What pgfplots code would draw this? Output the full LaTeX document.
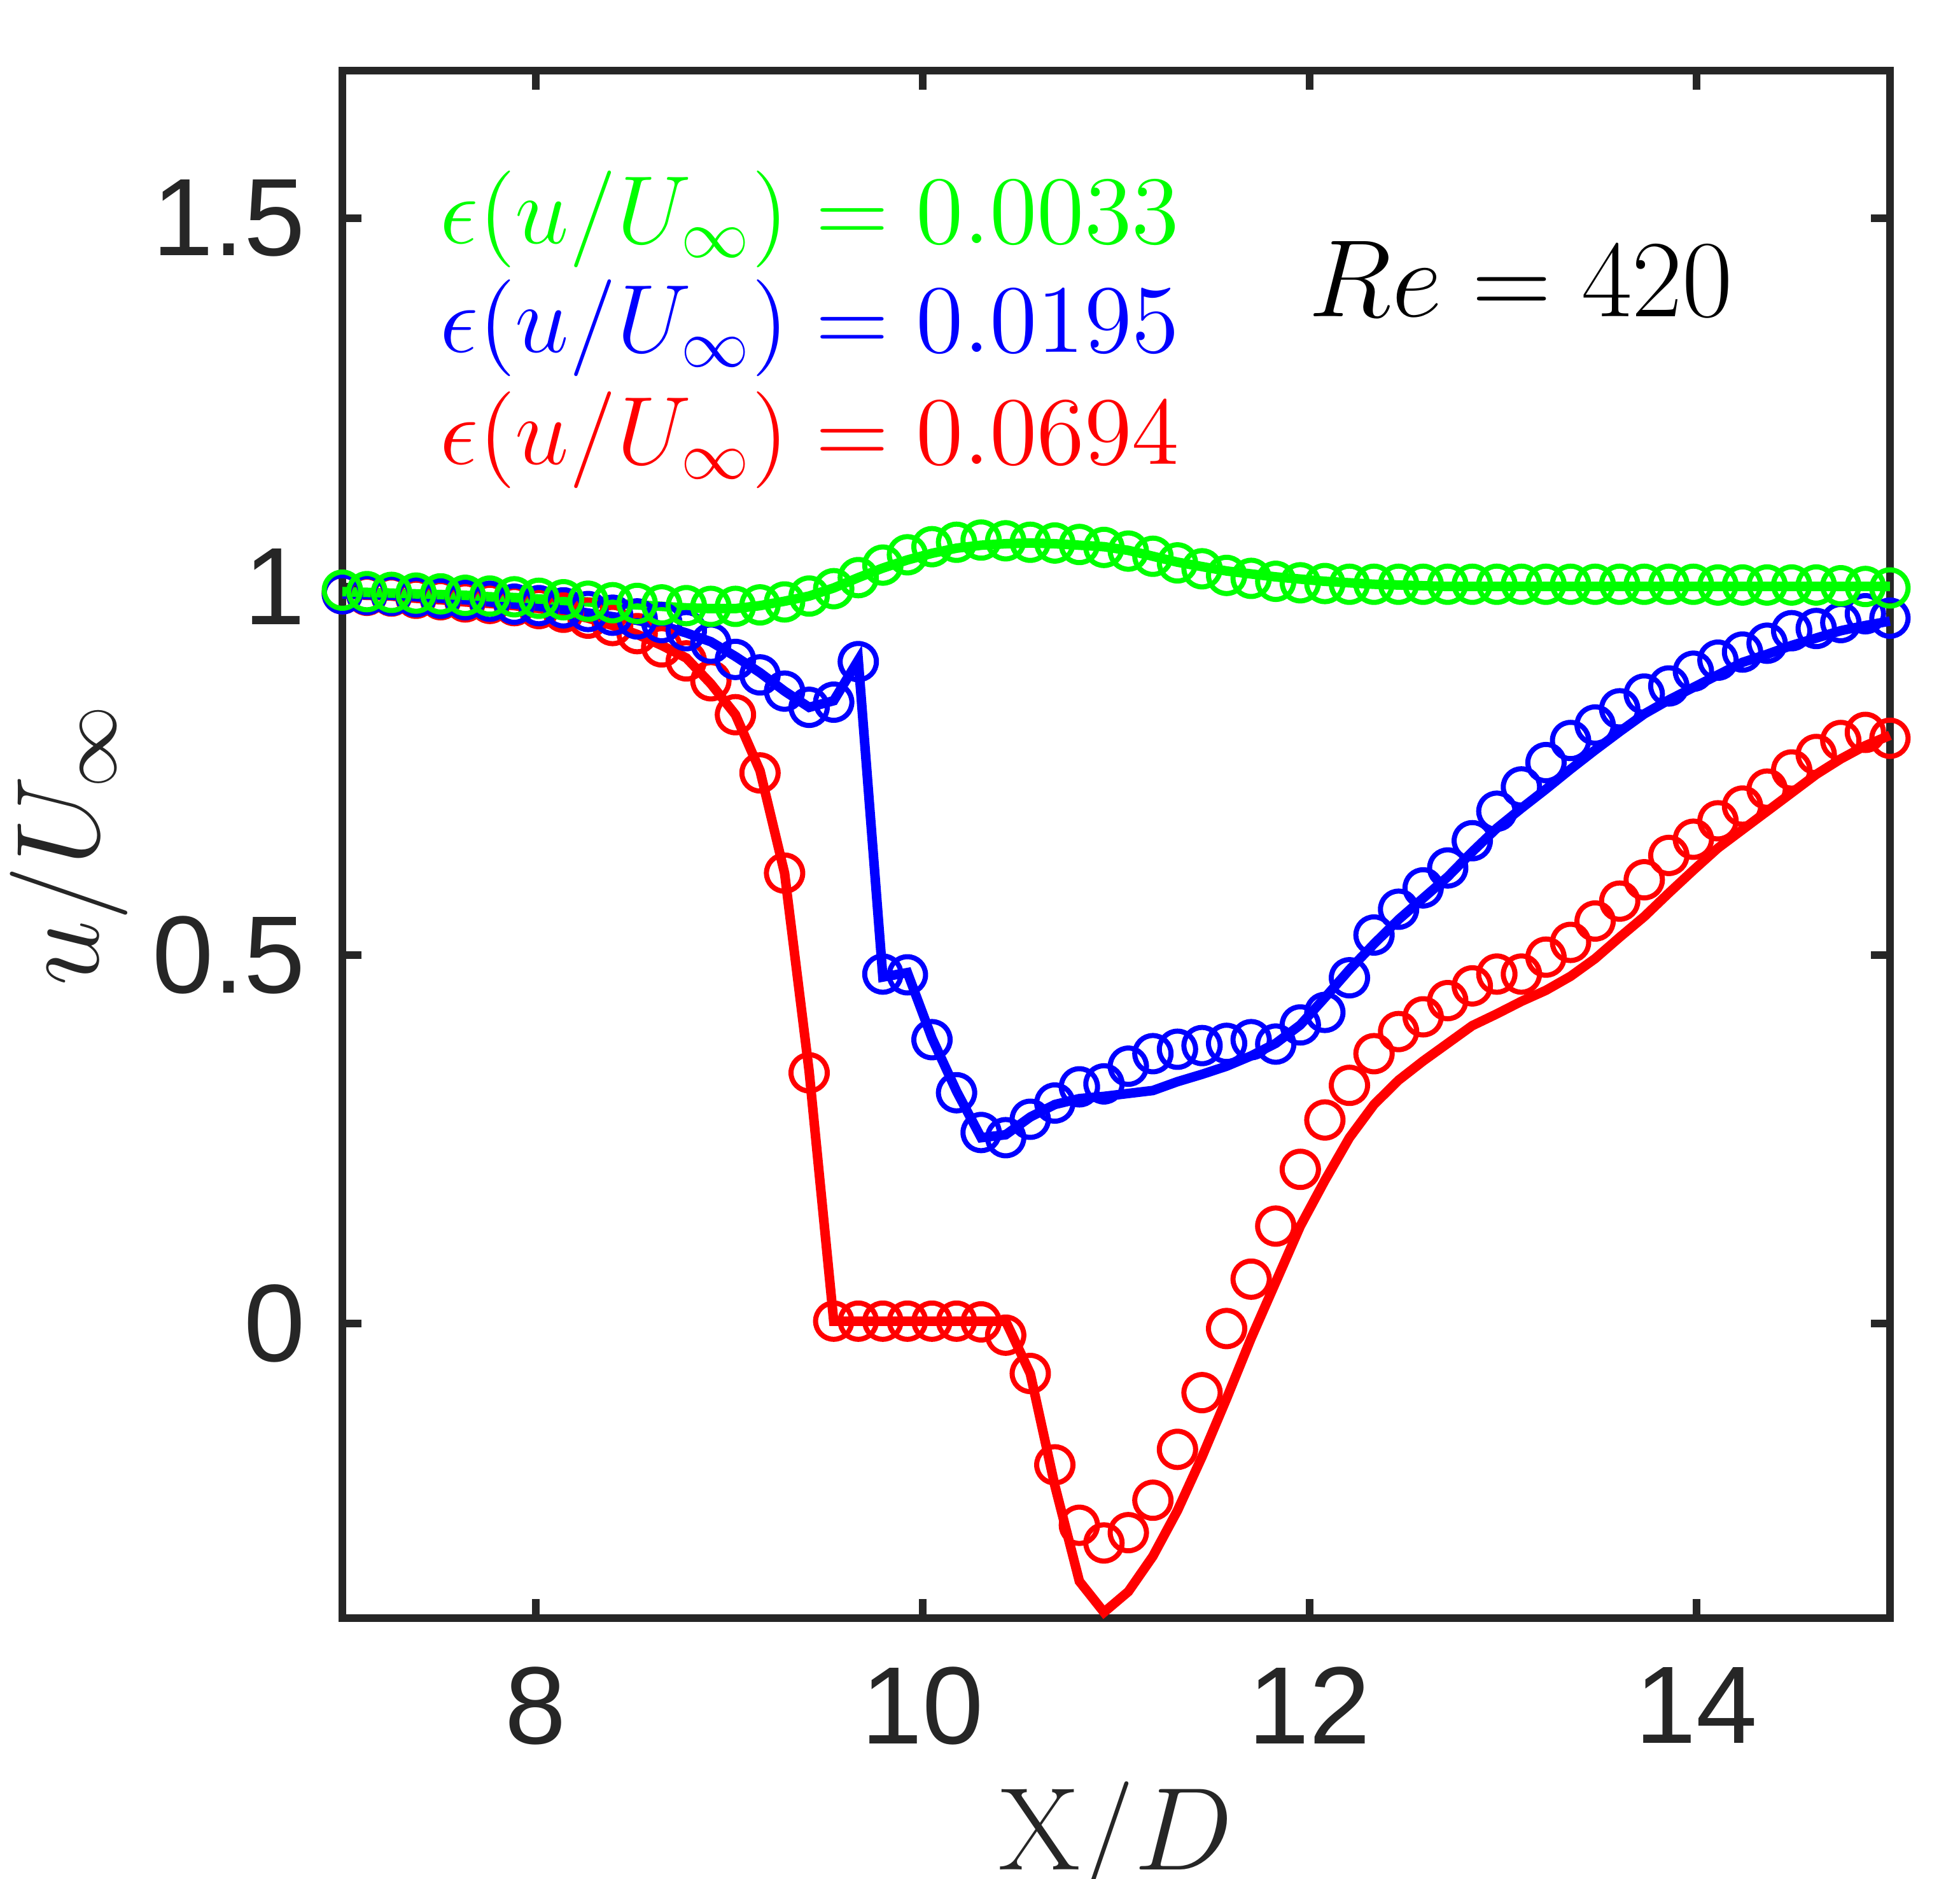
\RequirePackage{fix-cm}
\documentclass[border=0pt]{standalone}
\usepackage{fontspec}
\usepackage{pgfplots}
\usepackage{pgfplotstable}
\pgfplotsset{compat=1.18}
\newfontfamily\ticksf{Liberation Sans}
\definecolor{axcol}{HTML}{262626}
\definecolor{cr}{rgb}{1,0,0}
\definecolor{cb}{rgb}{0,0,1}
\definecolor{cg}{rgb}{0,1,0}

\pgfplotstableread{
x rl rm bl bm gl gm
7.000 0.990 0.990 0.990 0.990 0.993 0.995
7.127 0.988 0.988 0.989 0.989 0.992 0.993
7.254 0.987 0.987 0.988 0.988 0.991 0.992
7.381 0.984 0.984 0.986 0.986 0.990 0.991
7.508 0.982 0.982 0.984 0.984 0.989 0.990
7.635 0.979 0.979 0.982 0.982 0.988 0.988
7.762 0.977 0.977 0.979 0.980 0.986 0.987
7.889 0.974 0.974 0.976 0.976 0.985 0.986
8.016 0.970 0.970 0.973 0.974 0.983 0.984
8.143 0.965 0.965 0.969 0.971 0.981 0.982
8.270 0.957 0.957 0.964 0.966 0.979 0.980
8.397 0.947 0.947 0.959 0.961 0.977 0.978
8.524 0.935 0.936 0.954 0.956 0.975 0.977
8.651 0.920 0.918 0.947 0.951 0.973 0.975
8.778 0.903 0.899 0.937 0.940 0.971 0.974
8.905 0.868 0.872 0.925 0.923 0.970 0.973
9.032 0.826 0.826 0.905 0.901 0.970 0.973
9.159 0.750 0.747 0.883 0.880 0.974 0.975
9.286 0.611 0.611 0.858 0.858 0.980 0.979
9.413 0.342 0.340 0.836 0.836 0.987 0.987
9.540 0.003 0.003 0.845 0.843 0.998 0.997
9.667 0.003 0.003 0.900 0.898 1.012 1.012
9.794 0.003 0.003 0.470 0.474 1.025 1.029
9.921 0.003 0.003 0.476 0.473 1.036 1.043
10.048 0.003 0.003 0.387 0.385 1.045 1.054
10.175 0.003 0.003 0.315 0.313 1.052 1.060
10.302 0.003 0.002 0.252 0.259 1.056 1.063
10.429 0.003 -0.016 0.256 0.252 1.058 1.062
10.556 -0.068 -0.068 0.280 0.277 1.059 1.060
10.683 -0.220 -0.192 0.297 0.299 1.058 1.059
10.810 -0.350 -0.274 0.305 0.321 1.056 1.057
10.937 -0.392 -0.298 0.308 0.325 1.054 1.053
11.063 -0.364 -0.284 0.312 0.349 1.049 1.048
11.190 -0.316 -0.240 0.316 0.366 1.041 1.041
11.317 -0.254 -0.171 0.328 0.372 1.033 1.032
11.444 -0.181 -0.094 0.338 0.377 1.027 1.024
11.571 -0.102 -0.007 0.349 0.380 1.021 1.015
11.698 -0.020 0.060 0.363 0.385 1.017 1.011
11.825 0.056 0.132 0.380 0.379 1.013 1.007
11.952 0.132 0.209 0.405 0.405 1.010 1.005
12.079 0.194 0.276 0.442 0.422 1.007 1.004
12.206 0.252 0.323 0.480 0.469 1.005 1.003
12.333 0.297 0.366 0.515 0.527 1.003 1.003
12.460 0.330 0.396 0.548 0.562 1.002 1.003
12.587 0.356 0.416 0.577 0.591 1.001 1.003
12.714 0.380 0.438 0.606 0.618 1.000 1.003
12.841 0.404 0.458 0.640 0.655 1.000 1.003
12.968 0.420 0.474 0.672 0.695 1.000 1.003
13.095 0.437 0.474 0.699 0.728 1.000 1.003
13.222 0.452 0.497 0.725 0.761 1.000 1.003
13.349 0.471 0.517 0.752 0.791 1.000 1.003
13.476 0.495 0.546 0.778 0.812 1.000 1.003
13.603 0.524 0.573 0.803 0.834 1.000 1.003
13.730 0.552 0.602 0.827 0.854 1.000 1.003
13.857 0.584 0.635 0.846 0.865 1.000 1.003
13.984 0.615 0.657 0.863 0.885 1.000 1.003
14.111 0.645 0.682 0.880 0.900 1.000 1.002
14.238 0.670 0.702 0.897 0.911 1.000 1.002
14.365 0.695 0.725 0.908 0.923 1.000 1.002
14.492 0.720 0.751 0.920 0.940 1.000 1.002
14.619 0.745 0.772 0.930 0.943 1.000 1.002
14.746 0.766 0.791 0.940 0.951 1.000 1.001
14.873 0.784 0.802 0.947 0.963 1.000 1.000
15.000 0.798 0.794 0.953 0.957 1.000 0.998
}\datatab

\begin{document}
\begin{tikzpicture}
\begin{axis}[
  scale only axis,
  width=243.2pt, height=243.2pt,
  xmin=7, xmax=15, ymin=-0.4, ymax=1.7,
  xtick={8,10,12,14},
  ytick={0,0.5,1,1.5},
  tick align=inside,
  xtick pos=both, ytick pos=both,
  major tick length=3pt,
  axis line style={draw=axcol, line width=1.2pt},
  every tick/.style={draw=axcol, line width=1.2pt},
  /pgf/number format/assume math mode=true,
  ticklabel style={font=\ticksf\fontsize{17.3}{20}\selectfont, text=axcol},
  yticklabel style={anchor=east, inner sep=0pt, xshift=-5.6pt},
  xticklabel style={anchor=north, inner sep=0pt, yshift=-7.5pt},
  xlabel={$\mathrm{X}/D$},
  ylabel={$u/U_\infty$},
  xlabel style={at={(axis description cs:0.5,-0.1628)}, anchor=base, inner sep=0pt, font=\fontsize{18.5}{20}\selectfont, text=axcol},
  ylabel style={at={(axis description cs:-0.1575,0.5)}, anchor=base, rotate=0, inner sep=0pt, font=\fontsize{18.5}{20}\selectfont, text=axcol},
  clip=false,
]
\addplot[cr, line width=1.5pt] table[x=x, y=rl] {\datatab};
\addplot[cr, only marks, mark=o, mark size=2.85pt, mark options={line width=0.8pt, solid}] table[x=x, y=rm] {\datatab};
\addplot[cb, line width=1.5pt] table[x=x, y=bl] {\datatab};
\addplot[cb, only marks, mark=o, mark size=2.85pt, mark options={line width=0.8pt, solid}] table[x=x, y=bm] {\datatab};
\addplot[cg, line width=1.5pt] table[x=x, y=gl] {\datatab};
\addplot[cg, only marks, mark=o, mark size=2.85pt, mark options={line width=0.8pt, solid}] table[x=x, y=gm] {\datatab};

\node[anchor=base west, inner sep=0pt, text=cg, font=\fontsize{15.2}{18}\selectfont] at (axis cs:7.50,1.466) {$\epsilon(u/U_\infty) = 0.0033$};
\node[anchor=base west, inner sep=0pt, text=cb, font=\fontsize{15.2}{18}\selectfont] at (axis cs:7.50,1.318) {$\epsilon(u/U_\infty) = 0.0195$};
\node[anchor=base west, inner sep=0pt, text=cr, font=\fontsize{15.2}{18}\selectfont] at (axis cs:7.50,1.166) {$\epsilon(u/U_\infty) = 0.0694$};
\node[anchor=base west, inner sep=0pt, text=black, font=\fontsize{17.28}{20}\selectfont] at (axis cs:11.99,1.366) {$Re = 420$};
\end{axis}
\pgfresetboundingbox
\path[use as bounding box] (-53.8pt,-40.9pt) rectangle (254.2pt,254.3pt);
\end{tikzpicture}
\end{document}
